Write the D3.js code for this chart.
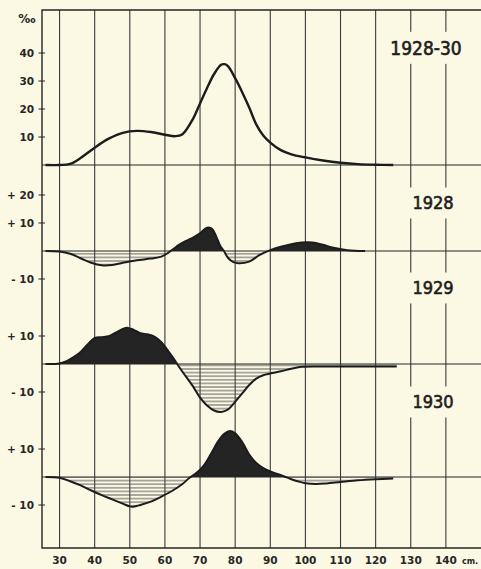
<!DOCTYPE html>
<html>
<head>
<meta charset="utf-8">
<script src="https://cdn.jsdelivr.net/npm/d3@7"></script>
<style>
  html, body { margin: 0; padding: 0; background: #fbf8e4; }
  svg { display: block; }
</style>
</head>
<body>
<div id="chart"></div>
<script>
// --- data (length in cm, frequency in per mille) ---
const xTicks = [30, 40, 50, 60, 70, 80, 90, 100, 110, 120, 130, 140];
const totalTicks = [10, 20, 30, 40];

const total = [[26,0],[30,0],[33,0.4],[36,2.5],[40,6.2],[44,9.4],[48,11.5],[52,12.2],[56,11.8],[60,10.8],
  [63,10.3],[65,11],[68,16.5],[70,22],[72,27.5],[74,32.5],[76,35.8],[77,36],[78,35.2],[80,31],[82,26],
  [84,20.5],[86,14.5],[88,10.5],[90,8],[93,5.3],[96,3.8],[100,2.7],[105,1.6],[110,0.8],[115,0.3],[120,0.1],[125,0]];

const dev1928 = [[26,0],[30,-0.2],[33,-1],[36,-2.6],[39,-4.2],[42,-5.1],[45,-5],[48,-4.2],[52,-3.3],[56,-2.7],
  [59,-2],[61,-0.6],[62.5,0.8],[64,2.2],[66,3.6],[68,4.8],[70,6.3],[71.5,8],[72.5,8.4],[73.5,7.8],[74.5,5.5],
  [75.7,2],[76.8,0],[78,-2.5],[79.5,-4],[81,-4.4],[84,-3.8],[87,-1.4],[90,0.3],[93,1.5],[96,2.4],[99,3],
  [102,3],[105,2.2],[108,1.2],[112,0.3],[117,0]];

const dev1929 = [[26,0],[30,0.2],[32,1],[34,2.5],[36,4.3],[38,7],[40,9.3],[42,9.6],[44,9.9],[46,11.2],[48,12.5],
  [49.5,12.9],[51,12.3],[53,11],[55,10.6],[57,9.8],[59,7.8],[61,4.5],[63,1],[64,-1],[66,-4.5],[68,-8],[70,-12],
  [72,-14.8],[74,-16.6],[76,-17.1],[78,-16.2],[80,-13.5],[82,-10.5],[84,-7.5],[86,-5.2],[88,-4],[90,-3.4],
  [93,-2.6],[96,-1.7],[99,-1],[105,-0.9],[115,-0.9],[126,-0.9]];

const dev1930 = [[26,0],[30,-0.3],[33,-1.5],[36,-3],[39,-4.8],[42,-6.5],[45,-8],[48,-9.5],[50,-10.5],[51,-10.6],
  [53,-10],[56,-8.8],[59,-7],[62,-5],[65,-2.5],[67,-0.3],[69,1.5],[71,4],[73,8],[75,12.5],[77,15.5],[78.5,16.4],
  [80,15.6],[82,12.5],[84,8],[86,5],[88,3.2],[90,2],[92,1.1],[94,0.2],[96,-0.8],[98,-1.6],[100,-2.2],[103,-2.5],
  [106,-2.3],[110,-1.8],[115,-1.2],[120,-0.8],[125,-0.5]];

const panels = [
  { label: "1928", data: dev1928, ticks: [20, 10, -10], base: 251, labelY: 203 },
  { label: "1929", data: dev1929, ticks: [10, -10], base: 364, labelY: 288 },
  { label: "1930", data: dev1930, ticks: [10, -10], base: 477, labelY: 402 }
];

// --- layout ---
const width = 481, height = 569;
const frameLeft = 42, frameTop = 10, frameBottom = 548;
const ink = "#262626", bg = "#fbf8e4";
const unit = 2.8; // px per per-mille

const svg = d3.select("#chart").append("svg")
  .attr("width", width).attr("height", height)
  .style("background", bg);

const defs = svg.append("defs");
const hatch = defs.append("pattern")
  .attr("id", "hatch").attr("patternUnits", "userSpaceOnUse")
  .attr("width", 8).attr("height", 3.6);
hatch.append("line").attr("x1", 0).attr("x2", 8).attr("y1", 1.8).attr("y2", 1.8)
  .attr("stroke", "#444").attr("stroke-width", 0.9);

const x = d3.scaleLinear().domain([25, 150]).range([frameLeft, width]);
const yTop = d3.scaleLinear().domain([0, 40]).range([165, 165 - 40 * unit]);

// grid: vertical lines
svg.append("g").selectAll("line").data(xTicks).join("line")
  .attr("x1", d => x(d)).attr("x2", d => x(d))
  .attr("y1", frameTop).attr("y2", frameBottom)
  .attr("stroke", "#3a3a3a").attr("stroke-width", 1.1);

// frame
svg.append("path")
  .attr("d", `M${width},${frameTop}H${frameLeft}V${frameBottom}H${width}`)
  .attr("fill", "none").attr("stroke", ink).attr("stroke-width", 1.4);

// baselines
const bases = [yTop(0)].concat(panels.map(p => p.base));
svg.append("g").selectAll("line").data(bases).join("line")
  .attr("x1", frameLeft).attr("x2", width).attr("y1", d => d).attr("y2", d => d)
  .attr("stroke", ink).attr("stroke-width", 1.2);

const tickFont = "'DejaVu Sans', sans-serif";

// y ticks helper
function yTick(y, text) {
  svg.append("line").attr("x1", 38.5).attr("x2", 45).attr("y1", y).attr("y2", y)
    .attr("stroke", ink).attr("stroke-width", 1);
  svg.append("text").attr("x", 34).attr("y", y).attr("dy", "0.36em")
    .attr("text-anchor", "end").attr("font-family", tickFont).attr("font-weight", "bold")
    .attr("font-size", 10.5).attr("fill", ink).text(text);
}

totalTicks.forEach(t => yTick(yTop(t), String(t)));
svg.append("text").attr("x", 27).attr("y", 23).attr("text-anchor", "middle")
  .attr("font-family", tickFont).attr("font-weight", "bold").attr("font-size", 12)
  .attr("fill", ink).text("‰");

// top curve
const line = d3.line().curve(d3.curveCatmullRom.alpha(0.5));
svg.append("path")
  .attr("d", line.x(d => x(d[0])).y(d => yTop(d[1]))(total))
  .attr("fill", "none").attr("stroke", "#1c1c1c").attr("stroke-width", 2.4);

// year label with background to break grid lines
function yearLabel(text, cx, cy, size) {
  const g = svg.append("g");
  const rect = g.append("rect").attr("fill", bg);
  const t = g.append("text").attr("x", cx).attr("y", cy).attr("dy", "0.36em")
    .attr("text-anchor", "middle").attr("font-family", "'DejaVu Sans Condensed', 'DejaVu Sans', sans-serif")
    .attr("font-size", size).attr("fill", "#1e1e1e")
    .attr("stroke", "#1e1e1e").attr("stroke-width", 0.6).text(text);
  const b = t.node().getBBox();
  rect.attr("x", b.x - 3).attr("y", b.y - 5).attr("width", b.width + 6).attr("height", b.height + 10);
}
yearLabel("1928-30", 426, 48, 19);

// deviation panels
panels.forEach((p, i) => {
  const y = d3.scaleLinear().domain([-10, 10]).range([p.base + 10 * unit, p.base - 10 * unit]);
  p.ticks.forEach(t => yTick(y(t), (t > 0 ? "+ " : "- ") + Math.abs(t)));

  const area = d3.area().curve(d3.curveCatmullRom.alpha(0.5))
    .x(d => x(d[0])).y0(y(0)).y1(d => y(d[1]));

  const cpUp = defs.append("clipPath").attr("id", "up" + i);
  cpUp.append("rect").attr("x", 0).attr("y", 0).attr("width", width).attr("height", y(0));
  const cpDn = defs.append("clipPath").attr("id", "dn" + i);
  cpDn.append("rect").attr("x", 0).attr("y", y(0)).attr("width", width).attr("height", height);

  svg.append("path").attr("d", area(p.data))
    .attr("fill", "url(#hatch)").attr("clip-path", `url(#dn${i})`);
  svg.append("path").attr("d", area(p.data))
    .attr("fill", "#242424").attr("clip-path", `url(#up${i})`);
  svg.append("path")
    .attr("d", line.x(d => x(d[0])).y(d => y(d[1]))(p.data))
    .attr("fill", "none").attr("stroke", "#1c1c1c").attr("stroke-width", 2);

  yearLabel(p.label, 433, p.labelY, 18);
});

// x tick labels
svg.append("g").selectAll("text").data(xTicks).join("text")
  .attr("x", d => x(d)).attr("y", 560).attr("dy", "0.36em")
  .attr("text-anchor", "middle").attr("font-family", tickFont).attr("font-weight", "bold")
  .attr("font-size", 10.5).attr("fill", ink).text(d => d);
svg.append("text").attr("x", 462).attr("y", 561).attr("dy", "0.36em")
  .attr("font-family", tickFont).attr("font-weight", "bold").attr("font-size", 8)
  .attr("fill", ink).text("cm.");
</script>
</body>
</html>
